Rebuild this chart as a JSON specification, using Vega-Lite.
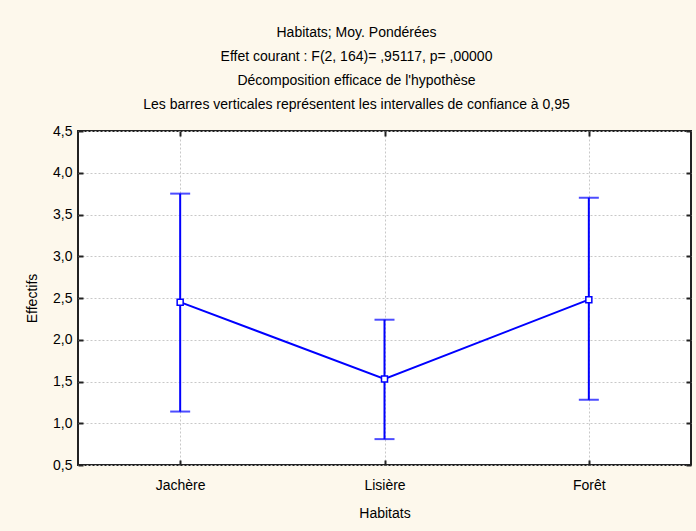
{
  "$schema": "https://vega.github.io/schema/vega-lite/v6.json",
  "autosize": {"type": "none"},
  "width": 613,
  "height": 334,
  "padding": {"left": 78, "top": 131, "right": 5, "bottom": 66},
  "background": "#fdf8ec",
  "title": {
    "text": [
      "Habitats; Moy. Pondérées",
      "Effet courant : F(2, 164)= ,95117, p= ,00000",
      "Décomposition efficace de l'hypothèse",
      "Les barres verticales représentent les intervalles de confiance à 0,95"
    ],
    "anchor": "middle",
    "dx": -28,
    "offset": 12,
    "font": "Liberation Sans",
    "fontSize": 14,
    "fontWeight": "normal",
    "lineHeight": 24,
    "color": "#000000"
  },
  "config": {
    "view": {"stroke": "#222222", "strokeWidth": 2, "fill": "#ffffff"},
    "axis": {
      "labelFont": "Liberation Sans",
      "titleFont": "Liberation Sans",
      "labelFontSize": 14,
      "titleFontSize": 14,
      "titleFontWeight": "normal",
      "labelColor": "#000000",
      "titleColor": "#000000",
      "domain": false,
      "tickColor": "#222222",
      "tickWidth": 2
    }
  },
  "data": {
    "values": [
      {"habitat": "Jachère", "moyenne": 2.45, "bas": 1.14, "haut": 3.75},
      {"habitat": "Lisière", "moyenne": 1.53, "bas": 0.81, "haut": 2.24},
      {"habitat": "Forêt", "moyenne": 2.48, "bas": 1.28, "haut": 3.70}
    ]
  },
  "resolve": {"axis": {"x": "independent", "y": "independent"}},
  "layer": [
    {
      "mark": {"type": "rule", "color": "#0000ff", "strokeWidth": 2},
      "encoding": {
        "x": {
          "field": "habitat",
          "type": "nominal",
          "scale": {"type": "point", "padding": 0.5, "domain": ["Jachère", "Lisière", "Forêt"]},
          "axis": {
            "title": "Habitats",
            "labelAngle": 0,
            "tickSize": -5,
            "labelPadding": 18,
            "titlePadding": 14,
            "grid": true,
            "gridColor": "#c8c8c8",
            "gridDash": [2, 2],
            "gridWidth": 1
          }
        },
        "y": {
          "field": "bas",
          "type": "quantitative",
          "scale": {"domain": [0.5, 4.5], "nice": false, "zero": false},
          "axis": {
            "title": "Effectifs",
            "values": [0.5, 1, 1.5, 2, 2.5, 3, 3.5, 4, 4.5],
            "labelExpr": "replace(format(datum.value, '.1f'), '.', ',')",
            "tickSize": -5,
            "labelPadding": 11,
            "titlePadding": 13,
            "grid": true,
            "gridColor": "#c8c8c8",
            "gridDash": [2, 2],
            "gridWidth": 1
          }
        },
        "y2": {"field": "haut"}
      }
    },
    {
      "mark": {"type": "tick", "color": "#0000ff", "thickness": 2, "size": 20},
      "encoding": {
        "x": {
          "field": "habitat",
          "type": "nominal",
          "axis": {"orient": "top", "title": null, "labels": false, "tickSize": -5, "grid": false}
        },
        "y": {
          "field": "bas",
          "type": "quantitative",
          "axis": {"orient": "right", "title": null, "labels": false, "tickSize": -5, "grid": false,
                   "values": [0.5, 1, 1.5, 2, 2.5, 3, 3.5, 4, 4.5]}
        }
      }
    },
    {
      "mark": {"type": "tick", "color": "#0000ff", "thickness": 2, "size": 20},
      "encoding": {
        "x": {"field": "habitat", "type": "nominal", "axis": null},
        "y": {"field": "haut", "type": "quantitative", "axis": null}
      }
    },
    {
      "mark": {"type": "line", "color": "#0000ff", "strokeWidth": 2},
      "encoding": {
        "x": {"field": "habitat", "type": "nominal", "axis": null, "sort": null},
        "y": {"field": "moyenne", "type": "quantitative", "axis": null}
      }
    },
    {
      "mark": {"type": "point", "shape": "square", "size": 36, "filled": true, "fill": "#ffffff", "stroke": "#0000ff", "strokeWidth": 1.5, "opacity": 1},
      "encoding": {
        "x": {"field": "habitat", "type": "nominal", "axis": null},
        "y": {"field": "moyenne", "type": "quantitative", "axis": null}
      }
    }
  ]
}
